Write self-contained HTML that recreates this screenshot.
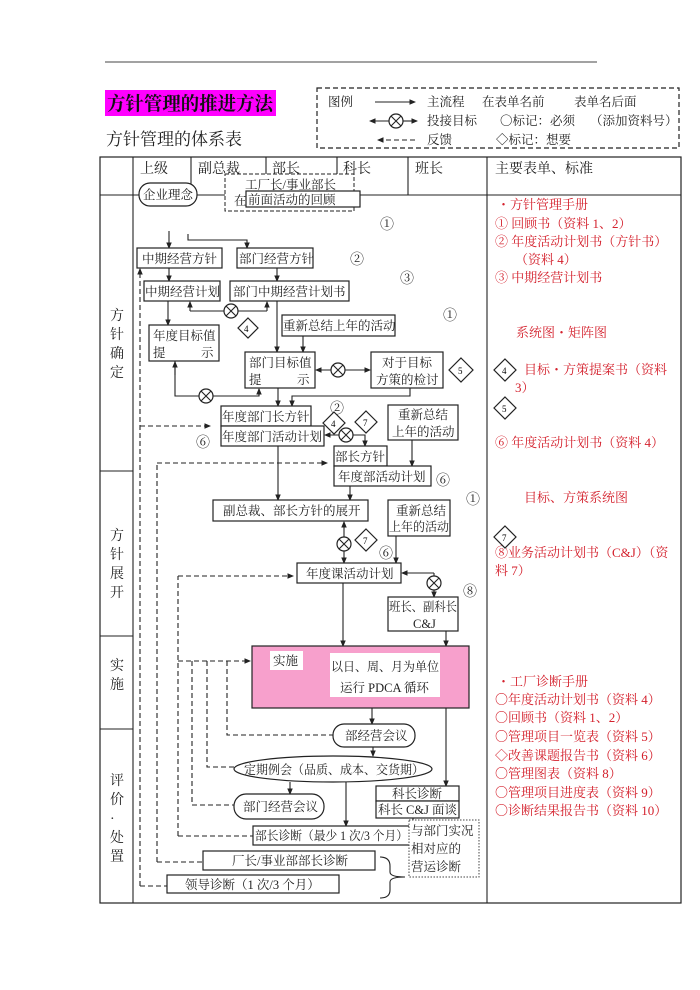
<!DOCTYPE html>
<html><head><meta charset="utf-8"><style>
html,body{margin:0;padding:0;background:#fff;}
svg{display:block;font-family:"Liberation Serif","Noto Serif CJK SC","Noto Sans CJK SC",serif;}
.t{font-size:12.5px;fill:#222;}
.r{font-size:13px;fill:#d4202c;}
.b{fill:#fff;stroke:#222;stroke-width:1.2;}
.l{stroke:#222;stroke-width:1.1;fill:none;}
.d{stroke:#222;stroke-width:1.1;fill:none;stroke-dasharray:5,3;}
</style></head><body>
<svg width="700" height="990" viewBox="0 0 700 990">
<defs>
<marker id="a" markerWidth="6" markerHeight="6" refX="5" refY="3" orient="auto"><path d="M0,0.5 L6,3 L0,5.5z" fill="#222"/></marker>
<g id="x"><circle r="7" fill="#fff" stroke="#222" stroke-width="1.2"/><path d="M-5,-5L5,5M-5,5L5,-5" stroke="#222" stroke-width="1.1"/></g>
</defs>
<line x1="105" y1="62" x2="597" y2="62" stroke="#444" stroke-width="1"/>
<rect x="105" y="90" width="171" height="26" fill="#ff00ff"/>
<text x="107" y="110" textLength="166" lengthAdjust="spacingAndGlyphs" style="font-size:19px;font-weight:bold;fill:#111">方针管理的推进方法</text>
<text x="106" y="145" style="font-size:17px;fill:#222">方针管理的体系表</text>
<!-- legend -->
<rect x="317" y="88" width="362" height="60" fill="none" stroke="#222" stroke-dasharray="5,3" stroke-width="1.2"/>
<text class="t" x="328" y="106">图例</text>
<line class="l" x1="375" y1="102" x2="415" y2="102" marker-end="url(#a)"/>
<text class="t" x="427" y="106">主流程</text>
<text class="t" x="482" y="106">在表单名前</text>
<text class="t" x="574" y="106">表单名后面</text>
<line class="l" x1="390" y1="121" x2="370" y2="121" marker-end="url(#a)"/>
<line class="l" x1="402" y1="121" x2="417" y2="121" marker-end="url(#a)"/>
<use href="#x" x="396" y="121"/>
<text class="t" x="427" y="125">投接目标</text>
<text class="t" x="500" y="125">〇标记：必须</text>
<text class="t" x="590" y="125">（添加资料号）</text>
<line class="d" x1="415" y1="140" x2="378" y2="140" marker-end="url(#a)"/>
<text class="t" x="427" y="144">反馈</text>
<text class="t" x="496" y="144">◇标记：想要</text>
<!-- table -->
<rect x="100" y="157" width="581" height="746" fill="none" stroke="#222" stroke-width="1.2"/>
<line class="l" x1="100" y1="195" x2="681" y2="195"/>
<line class="l" x1="133" y1="157" x2="133" y2="903"/>
<line class="l" x1="487" y1="157" x2="487" y2="903"/>
<line class="l" x1="191" y1="157" x2="191" y2="195"/>
<line class="l" x1="266" y1="157" x2="266" y2="195"/>
<line class="l" x1="337" y1="157" x2="337" y2="195"/>
<line class="l" x1="408" y1="157" x2="408" y2="195"/>
<line class="l" x1="100" y1="471" x2="133" y2="471"/>
<line class="l" x1="100" y1="636" x2="133" y2="636"/>
<line class="l" x1="100" y1="729" x2="133" y2="729"/>
<text class="t" x="140" y="173" style="font-size:14px">上级</text>
<text class="t" x="198" y="173" style="font-size:14px">副总裁</text>
<text class="t" x="272" y="173" style="font-size:14px">部长</text>
<text class="t" x="343" y="173" style="font-size:14px">科长</text>
<text class="t" x="415" y="173" style="font-size:14px">班长</text>
<text class="t" x="495" y="173" style="font-size:14px">主要表单、标准</text>
<g class="t" style="font-size:14px">
<text x="110" y="320">方</text><text x="110" y="339">针</text><text x="110" y="358">确</text><text x="110" y="377">定</text>
<text x="110" y="540">方</text><text x="110" y="559">针</text><text x="110" y="578">展</text><text x="110" y="597">开</text>
<text x="110" y="670">实</text><text x="110" y="689">施</text>
<text x="110" y="785">评</text><text x="110" y="804">价</text><text x="110" y="823">·</text><text x="110" y="842">处</text><text x="110" y="861">置</text>
</g>
<!-- top nodes -->
<rect x="225" y="174" width="129" height="37" fill="#fff" stroke="#222" stroke-dasharray="4,2"/>
<text class="t" x="245" y="189">工厂长/事业部长</text>
<text class="t" x="234" y="205">在</text>
<rect class="b" x="246" y="191" width="114" height="16"/>
<text class="t" x="248" y="204">前面活动的回顾</text>
<rect x="139" y="183" width="58" height="23" rx="11" class="b"/>
<text class="t" x="143" y="199">企业理念</text>
<g class="t" style="font-size:14px"><text x="380" y="229">①</text><text x="350" y="264">②</text><text x="400" y="283">③</text><text x="443" y="320">①</text>
<text x="330" y="413">②</text><text x="196" y="447">⑥</text><text x="436" y="485">⑥</text><text x="466" y="504">①</text><text x="379" y="558">⑥</text><text x="463" y="596">⑧</text></g>
<line class="l" x1="169" y1="231" x2="169" y2="248" marker-end="url(#a)"/>
<path class="l" d="M188,234 V240 H247 V248" marker-end="url(#a)"/>
<rect class="b" x="137" y="248" width="85" height="20"/><text class="t" x="142" y="263">中期经营方针</text>
<rect class="b" x="237" y="248" width="76" height="20"/><text class="t" x="239" y="263">部门经营方针</text>
<line class="l" x1="169" y1="268" x2="169" y2="281" marker-end="url(#a)"/>
<line class="l" x1="277" y1="268" x2="277" y2="281" marker-end="url(#a)"/>
<rect class="b" x="144" y="281" width="76" height="20"/><text class="t" x="145" y="296">中期经营计划</text>
<rect class="b" x="230" y="281" width="119" height="20"/><text class="t" x="233" y="296">部门中期经营计划书</text>
<path class="l" d="M190,311 H267"/><line class="l" x1="190" y1="311" x2="190" y2="302" marker-end="url(#a)"/><line class="l" x1="267" y1="311" x2="267" y2="302" marker-end="url(#a)"/>
<use href="#x" x="231" y="311"/>
<line class="l" x1="168" y1="301" x2="168" y2="325" marker-end="url(#a)"/>
<line class="l" x1="277" y1="301" x2="277" y2="352" marker-end="url(#a)"/>
<rect class="b" x="149" y="325" width="70" height="36"/><text class="t" x="153" y="340">年度目标值</text><text class="t" x="153" y="357">提</text><text class="t" x="201" y="357">示</text>
<path d="M248,318 L258,328 L248,338 L238,328z" class="b"/><text x="244" y="332" style="font-size:9px">4</text>
<rect class="b" x="282" y="315" width="113" height="21"/><text class="t" x="283" y="330">重新总结上年的活动</text>
<line class="l" x1="303" y1="336" x2="303" y2="352" marker-end="url(#a)"/>
<rect class="b" x="245" y="352" width="70" height="36"/><text class="t" x="249" y="367">部门目标值</text><text class="t" x="249" y="384">提</text><text class="t" x="297" y="384">示</text>
<rect class="b" x="371" y="352" width="72" height="36"/><text class="t" x="382" y="367">对于目标</text><text class="t" x="376" y="384">方策的检讨</text>
<line class="l" x1="338" y1="370" x2="316" y2="370" marker-end="url(#a)"/><line class="l" x1="338" y1="370" x2="370" y2="370" marker-end="url(#a)"/>
<use href="#x" x="338" y="370"/>
<path d="M461,358 L473,370 L461,382 L449,370z" class="b"/><text x="458" y="374" style="font-size:9px">5</text>
<path class="l" d="M175,361 V396 H259 V389"/><line class="l" x1="175" y1="375" x2="175" y2="362" marker-end="url(#a)"/><line class="l" x1="259" y1="396" x2="259" y2="389" marker-end="url(#a)"/>
<use href="#x" x="206" y="396"/>
<line class="l" x1="278" y1="388" x2="278" y2="406" marker-end="url(#a)"/>
<path class="l" d="M410,388 V396 H292 V406" marker-end="url(#a)"/>
<rect class="b" x="221" y="406" width="90" height="20"/><text class="t" x="222" y="421">年度部门长方针</text>
<rect class="b" x="221" y="426" width="103" height="20"/><text class="t" x="222" y="441">年度部门活动计划</text>
<path d="M334,412 L345,423 L334,434 L323,423z" class="b"/><text x="331" y="427" style="font-size:9px">4</text>
<path d="M366,411 L377,422 L366,433 L355,422z" class="b"/><text x="363" y="426" style="font-size:9px">7</text>
<line class="l" x1="346" y1="435" x2="325" y2="435" marker-end="url(#a)"/>
<path class="l" d="M346,435 H365 V446" marker-end="url(#a)"/>
<use href="#x" x="346" y="435"/>
<rect class="b" x="388" y="405" width="70" height="35"/><text class="t" x="398" y="419">重新总结</text><text class="t" x="392" y="436">上年的活动</text>
<line class="l" x1="412" y1="440" x2="412" y2="466" marker-end="url(#a)"/>
<rect class="b" x="334" y="446" width="53" height="20"/><text class="t" x="335" y="461">部长方针</text>
<rect class="b" x="334" y="466" width="97" height="20"/><text class="t" x="338" y="481">年度部活动计划</text>
<line class="l" x1="278" y1="446" x2="278" y2="500" marker-end="url(#a)"/>
<line class="l" x1="350" y1="486" x2="350" y2="500" marker-end="url(#a)"/>
<rect class="b" x="213" y="500" width="155" height="21"/><text class="t" x="223" y="515">副总裁、部长方针的展开</text>
<rect class="b" x="388" y="500" width="62" height="36"/><text class="t" x="396" y="515">重新总结</text><text class="t" x="389" y="531" textLength="60" lengthAdjust="spacingAndGlyphs">上年的活动</text>
<line class="l" x1="344" y1="544" x2="344" y2="522" marker-end="url(#a)"/><line class="l" x1="344" y1="544" x2="344" y2="563" marker-end="url(#a)"/>
<use href="#x" x="344" y="544"/>
<path d="M366,529 L377,540 L366,551 L355,540z" class="b"/><text x="363" y="544" style="font-size:9px">7</text>
<line class="l" x1="396" y1="536" x2="396" y2="563" marker-end="url(#a)"/>
<rect class="b" x="297" y="563" width="104" height="20"/><text class="t" x="306" y="578">年度课活动计划</text>
<line class="l" x1="434" y1="573" x2="402" y2="573" marker-end="url(#a)"/>
<line class="l" x1="434" y1="573" x2="434" y2="597" marker-end="url(#a)"/>
<use href="#x" x="434" y="583"/>
<rect class="b" x="388" y="597" width="70" height="34"/><text class="t" x="389" y="611" textLength="68" lengthAdjust="spacingAndGlyphs">班长、副科长</text><text class="t" x="413" y="628">C&amp;J</text>
<!-- dashed feedback -->
<path class="d" d="M140,886 H167"/>
<line class="d" x1="140" y1="886" x2="140" y2="269" marker-end="url(#a)"/>
<line class="d" x1="140" y1="426" x2="210" y2="426" marker-end="url(#a)"/>
<path class="d" d="M157,862 V463"/><line class="d" x1="157" y1="463" x2="327" y2="463" marker-end="url(#a)"/>
<path class="d" d="M157,862 H203"/>
<path class="d" d="M178,836 V576"/><line class="d" x1="178" y1="576" x2="293" y2="576" marker-end="url(#a)"/>
<path class="d" d="M178,836 H253"/>
<line class="d" x1="178" y1="661" x2="250" y2="661" marker-end="url(#a)"/>
<path class="d" d="M192,661 V805 H234"/>
<path class="d" d="M207,661 V767 H234"/>
<path class="d" d="M227,661 V735 H333"/>
<!-- implement -->
<line class="l" x1="343" y1="583" x2="343" y2="646" marker-end="url(#a)"/>
<line class="l" x1="446" y1="631" x2="446" y2="646" marker-end="url(#a)"/>
<rect x="252" y="646" width="217" height="62" fill="#f7a0cc" stroke="#222" stroke-width="1.2"/>
<rect x="270" y="651" width="33" height="19" fill="#fff"/><text class="t" x="273" y="665">实施</text>
<rect x="330" y="653" width="110" height="44" fill="#fff"/><text class="t" x="331" y="671" textLength="108" lengthAdjust="spacingAndGlyphs">以日、周、月为单位</text><text class="t" x="340" y="692">运行 PDCA 循环</text>
<line class="l" x1="372" y1="708" x2="372" y2="724" marker-end="url(#a)"/>
<line class="l" x1="446" y1="708" x2="446" y2="786" marker-end="url(#a)"/>
<rect class="b" x="333" y="724" width="82" height="23" rx="11"/><text class="t" x="345" y="740">部经营会议</text>
<line class="l" x1="373" y1="747" x2="373" y2="756" marker-end="url(#a)"/>
<ellipse class="b" cx="333" cy="769" rx="99" ry="13"/><text class="t" x="244" y="774" textLength="180" lengthAdjust="spacingAndGlyphs">定期例会（品质、成本、交货期）</text>
<line class="l" x1="290" y1="782" x2="290" y2="794" marker-end="url(#a)"/>
<line class="l" x1="346" y1="782" x2="346" y2="826" marker-end="url(#a)"/>
<rect class="b" x="234" y="794" width="90" height="25" rx="12"/><text class="t" x="243" y="811">部门经营会议</text>
<rect class="b" x="376" y="786" width="83" height="15"/><text class="t" x="392" y="798">科长诊断</text>
<rect class="b" x="376" y="801" width="83" height="17"/><text class="t" x="378" y="814" textLength="79" lengthAdjust="spacingAndGlyphs">科长 C&amp;J 面谈</text>
<line class="l" x1="413" y1="818" x2="413" y2="826" marker-end="url(#a)"/>
<rect class="b" x="253" y="826" width="157" height="19"/><text class="t" x="255" y="840" textLength="153" lengthAdjust="spacingAndGlyphs">部长诊断（最少 1 次/3 个月）</text>
<rect x="409" y="820" width="70" height="57" fill="#fff" stroke="#444" stroke-dasharray="1.5,1.5"/>
<text class="t" x="411" y="835">与部门实况</text><text class="t" x="411" y="853">相对应的</text><text class="t" x="411" y="871">营运诊断</text>
<rect class="b" x="203" y="851" width="172" height="19"/><text class="t" x="232" y="865">厂长/事业部部长诊断</text>
<rect class="b" x="167" y="875" width="172" height="18"/><text class="t" x="185" y="889">领导诊断（1 次/3 个月）</text>
<path class="l" d="M380,857 Q390,857 390,866 V872 Q390,877 405,877 Q390,877 390,882 V890 Q390,898 380,898"/>
<!-- right column -->
<g class="r">
<text x="497" y="209">・方针管理手册</text>
<text x="495" y="228">①  回顾书（资料 1、2）</text>
<text x="495" y="246">②  年度活动计划书（方针书）</text>
<text x="515" y="264">（资料 4）</text>
<text x="495" y="282">③  中期经营计划书</text>
<text x="516" y="337">系统图・矩阵图</text>
<text x="524" y="374">目标・方策提案书（资料</text>
<text x="515" y="392">3）</text>
<text x="495" y="447">⑥  年度活动计划书（资料 4）</text>
<text x="524" y="502">目标、方策系统图</text>
<text x="495" y="557">⑧业务活动计划书（C&amp;J）（资</text>
<text x="495" y="575">料 7）</text>
<text x="497" y="686">・工厂诊断手册</text>
<text x="495" y="704">〇年度活动计划书（资料 4）</text>
<text x="495" y="722">〇回顾书（资料 1、2）</text>
<text x="495" y="741">〇管理项目一览表（资料 5）</text>
<text x="495" y="760">◇改善课题报告书（资料 6）</text>
<text x="495" y="778">〇管理图表（资料 8）</text>
<text x="495" y="797">〇管理项目进度表（资料 9）</text>
<text x="495" y="815">〇诊断结果报告书（资料 10）</text>
</g>
<path d="M505,359 L516,370 L505,381 L494,370z" class="b"/><text x="502" y="374" style="font-size:9px">4</text>
<path d="M505,397 L516,408 L505,419 L494,408z" class="b"/><text x="502" y="412" style="font-size:9px">5</text>
<path d="M505,526 L516,537 L505,548 L494,537z" class="b"/><text x="502" y="541" style="font-size:9px">7</text>
</svg>
</body></html>
